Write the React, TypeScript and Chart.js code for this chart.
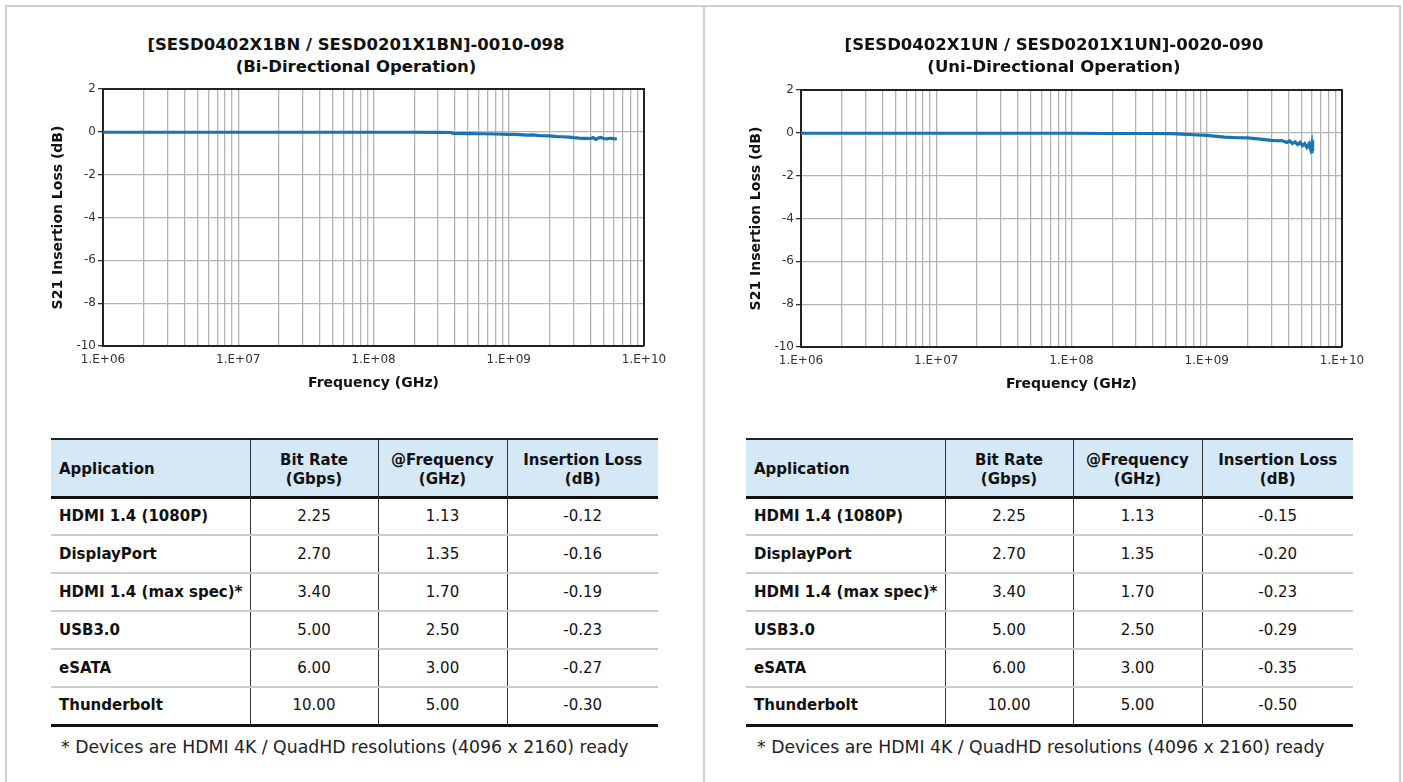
import React, { useEffect, useRef } from "react";
import { Chart, registerables } from "chart.js";

Chart.register(...registerables);

const FONT = "'DejaVu Sans', sans-serif";
const LINE_COLOR = "#1874b4";

// Axis definitions
const decades = [1e6, 1e7, 1e8, 1e9, 1e10];
const gridMultiples = [1, 2, 3, 4, 5, 6, 7, 8, 9];
const yTicks = [-10, -8, -6, -4, -2, 0, 2];

// Bi-directional S21 curve (Hz, dB)
const freqBi = [
  1e6, 3e6, 1e7, 3e7, 1e8, 2e8, 3e8, 3.7e8, 3.9e8, 5e8, 6.5e8, 8e8, 1e9, 1.13e9,
  1.35e9, 1.5e9, 1.7e9, 2e9, 2.3e9, 2.5e9, 2.8e9, 3e9, 3.2e9, 3.5e9, 3.8e9, 4e9,
  4.2e9, 4.4e9, 4.6e9, 4.8e9, 5e9, 5.3e9, 5.6e9, 6e9, 6.3e9,
];
const lossBi = [
  -0.02, -0.02, -0.02, -0.02, -0.02, -0.02, -0.025, -0.03, -0.07, -0.08, -0.09, -0.1,
  -0.12, -0.12, -0.15, -0.14, -0.18, -0.19, -0.22, -0.23, -0.25, -0.27, -0.28, -0.31,
  -0.3, -0.32, -0.27, -0.35, -0.29, -0.26, -0.31, -0.33, -0.3, -0.32, -0.33,
];

// Uni-directional S21 curve (Hz, dB)
const freqUni = [
  1e6, 3e6, 1e7, 3e7, 1e8, 2e8, 4e8, 5.5e8, 6.5e8, 8e8, 1e9, 1.13e9, 1.35e9, 1.7e9,
  2e9, 2.5e9, 3e9, 3.3e9, 3.6e9, 3.9e9, 4.1e9, 4.3e9, 4.5e9, 4.7e9, 4.9e9, 5.1e9,
  5.3e9, 5.5e9, 5.7e9, 5.85e9, 5.95e9, 6.0e9, 6.02e9, 6.05e9, 6.08e9,
];
const lossUni = [
  -0.02, -0.02, -0.02, -0.02, -0.02, -0.03, -0.03, -0.04, -0.06, -0.09, -0.12, -0.15,
  -0.2, -0.23, -0.24, -0.29, -0.35, -0.37, -0.36, -0.45, -0.38, -0.5, -0.42, -0.55,
  -0.45, -0.6, -0.5, -0.68, -0.52, -0.75, -0.55, -0.95, -0.35, -0.85, -0.6,
];

// Table data
const headerLines = [["Application"], ["Bit Rate", "(Gbps)"], ["@Frequency", "(GHz)"], ["Insertion Loss", "(dB)"]];
const applications = ["HDMI 1.4 (1080P)", "DisplayPort", "HDMI 1.4 (max spec)*", "USB3.0", "eSATA", "Thunderbolt"];
const bitRates = ["2.25", "2.70", "3.40", "5.00", "6.00", "10.00"];
const frequencies = ["1.13", "1.35", "1.70", "2.50", "3.00", "5.00"];
const tableLossBi = ["-0.12", "-0.16", "-0.19", "-0.23", "-0.27", "-0.30"];
const tableLossUni = ["-0.15", "-0.20", "-0.23", "-0.29", "-0.35", "-0.50"];
const footnote = "* Devices are HDMI 4K / QuadHD resolutions (4096 x 2160) ready";

const titleBi = ["[SESD0402X1BN / SESD0201X1BN]-0010-098", "(Bi-Directional Operation)"];
const titleUni = ["[SESD0402X1UN / SESD0201X1UN]-0020-090", "(Uni-Directional Operation)"];

const framePlugin = {
  id: "frame",
  beforeDatasetsDraw(chart: any) {
    const { ctx, chartArea } = chart;
    ctx.save();
    ctx.strokeStyle = "#222";
    ctx.lineWidth = 2;
    ctx.beginPath();
    ctx.moveTo(chartArea.left, chartArea.top);
    ctx.lineTo(chartArea.right, chartArea.top);
    ctx.lineTo(chartArea.right, chartArea.bottom);
    ctx.stroke();
    ctx.restore();
  },
};

function fmtDecade(v: number) {
  const e = Math.round(Math.log10(v));
  return "1.E+" + String(e).padStart(2, "0");
}

function LossChart(props: { title: string[]; freq: number[]; loss: number[]; left: number; top: number }) {
  const ref = useRef<HTMLCanvasElement>(null);
  useEffect(() => {
    const chart = new Chart(ref.current as HTMLCanvasElement, {
      type: "line",
      data: {
        datasets: [
          {
            data: props.freq.map((f, i) => ({ x: f, y: props.loss[i] })),
            borderColor: LINE_COLOR,
            borderWidth: 3.2,
            pointRadius: 0,
            tension: 0,
            fill: false,
          },
        ],
      },
      options: {
        animation: false,
        responsive: false,
        devicePixelRatio: 1,
        layout: { padding: { left: 0, right: 60, top: 89, bottom: 0 } },
        plugins: {
          legend: { display: false },
          tooltip: { enabled: false },
          title: { display: false },
        },
        scales: {
          x: {
            type: "logarithmic",
            min: 1e6,
            max: 1e10,
            afterBuildTicks: (s: any) => {
              const t: any[] = [];
              decades.slice(0, -1).forEach((d) => gridMultiples.forEach((m) => t.push({ value: d * m })));
              t.push({ value: decades[decades.length - 1] });
              s.ticks = t;
            },
            afterFit: (s: any) => {
              s.height = 54;
            },
            grid: { color: "#b4b4b4", lineWidth: 1.3, drawTicks: false },
            border: { display: true, color: "#222", width: 2 },
            ticks: {
              autoSkip: false,
              maxRotation: 0,
              minRotation: 0,
              padding: 7,
              color: "#333",
              font: { family: FONT, size: 12 },
              callback: (v: any) => (decades.includes(Number(v)) ? fmtDecade(Number(v)) : ""),
            },
            title: {
              display: true,
              text: "Frequency (GHz)",
              color: "#111",
              font: { family: FONT, size: 14, weight: "bold" },
              padding: { top: 0, bottom: 8.6 },
            },
          },
          y: {
            type: "linear",
            min: -10,
            max: 2,
            afterBuildTicks: (s: any) => {
              s.ticks = yTicks.map((v) => ({ value: v }));
            },
            afterFit: (s: any) => {
              s.width = 103;
            },
            grid: { color: "#b4b4b4", lineWidth: 1.3, tickLength: 5, tickColor: "#333" },
            border: { display: true, color: "#222", width: 2 },
            ticks: {
              padding: 2,
              color: "#333",
              font: { family: FONT, size: 12 },
            },
            title: {
              display: true,
              text: "S21 Insertion Loss (dB)",
              color: "#111",
              font: { family: FONT, size: 14, weight: "bold" },
              padding: { top: 49.6, bottom: 0 },
            },
          },
        },
      } as any,
      plugins: [framePlugin],
    });
    return () => chart.destroy();
  }, []);
  return (
    <>
      <div
        style={{
          position: "absolute",
          left: props.left,
          top: 34,
          width: 712,
          textAlign: "center",
          fontFamily: FONT,
          fontWeight: "bold",
          fontSize: 16.5,
          lineHeight: "22px",
          color: "#111",
          whiteSpace: "nowrap",
        }}
      >
        {props.title.map((t, i) => (
          <div key={i}>{t}</div>
        ))}
      </div>
      <canvas
        ref={ref}
        width={704}
        height={400}
        style={{ position: "absolute", left: props.left, top: props.top, width: 704, height: 400 }}
      />
    </>
  );
}

const colWidths = [199, 128, 129, 151];

function LossTable(props: { left: number; losses: string[] }) {
  const cellBase: React.CSSProperties = { padding: 0, fontSize: 15, lineHeight: "19px" };
  const sep = "1px solid #333";
  return (
    <div style={{ position: "absolute", left: props.left, top: 438, width: 607 }}>
      <table
        style={{
          borderCollapse: "collapse",
          width: 607,
          tableLayout: "fixed",
          fontFamily: FONT,
          color: "#111",
        }}
      >
        <colgroup>
          {colWidths.map((w, i) => (
            <col key={i} style={{ width: w }} />
          ))}
        </colgroup>
        <thead>
          <tr style={{ height: 58, background: "#d5e8f6" }}>
            {headerLines.map((lines, i) => (
              <th
                key={i}
                style={{
                  ...cellBase,
                  fontWeight: "bold",
                  textAlign: i === 0 ? "left" : "center",
                  paddingLeft: i === 0 ? 8 : 0,
                  paddingTop: 4,
                  borderTop: "2px solid #222",
                  borderBottom: "3px solid #111",
                  borderLeft: i === 0 ? "none" : sep,
                }}
              >
                {lines.map((l, j) => (
                  <div key={j}>{l}</div>
                ))}
              </th>
            ))}
          </tr>
        </thead>
        <tbody>
          {applications.map((app, r) => {
            const last = r === applications.length - 1;
            const bb = last ? "3px solid #111" : "2px solid #cccccc";
            const vals = [bitRates[r], frequencies[r], props.losses[r]];
            return (
              <tr key={r} style={{ height: 38 }}>
                <td style={{ ...cellBase, fontWeight: "bold", paddingLeft: 8, borderBottom: bb }}>{app}</td>
                {vals.map((v, c) => (
                  <td key={c} style={{ ...cellBase, textAlign: "center", borderLeft: sep, borderBottom: bb }}>
                    {v}
                  </td>
                ))}
              </tr>
            );
          })}
        </tbody>
      </table>
    </div>
  );
}

function Footnote(props: { left: number }) {
  return (
    <div
      style={{
        position: "absolute",
        left: props.left,
        top: 737,
        fontFamily: FONT,
        fontSize: 17.3,
        lineHeight: "20px",
        color: "#222",
        whiteSpace: "nowrap",
      }}
    >
      {footnote}
    </div>
  );
}

export default function App() {
  return (
    <div
      style={{
        position: "absolute",
        left: 0,
        top: 0,
        width: 1403,
        height: 782,
        background: "#fff",
        overflow: "hidden",
      }}
    >
      <div
        style={{
          position: "absolute",
          left: 5,
          top: 5,
          width: 1392,
          height: 800,
          border: "2px solid #cfcfcf",
          borderBottom: "none",
        }}
      />
      <div style={{ position: "absolute", left: 703, top: 5, width: 2, height: 800, background: "#cfcfcf" }} />
      <LossChart title={titleBi} freq={freqBi} loss={lossBi} left={0} top={0} />
      <LossChart title={titleUni} freq={freqUni} loss={lossUni} left={698} top={1} />
      <LossTable left={51} losses={tableLossBi} />
      <LossTable left={746} losses={tableLossUni} />
      <Footnote left={61} />
      <Footnote left={757} />
    </div>
  );
}
